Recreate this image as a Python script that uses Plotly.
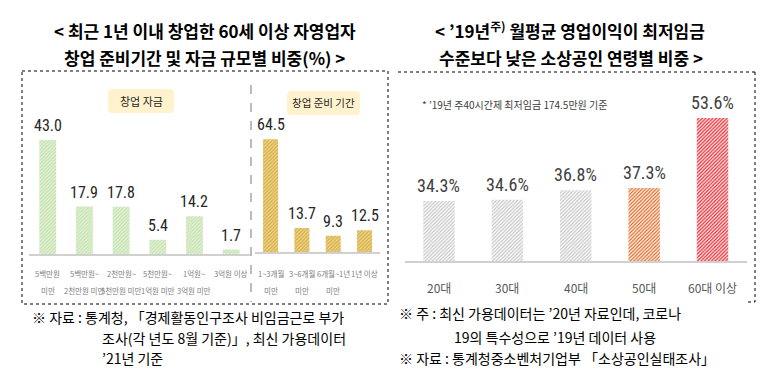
import plotly.graph_objects as go

# ---------------- data ----------------
fund_categories = ["5백만원<br>미만", "5백만원~<br>2천만원 미만", "2천만원~<br>5천만원 미만",
                   "5천만원~<br>1억원 미만", "1억원~<br>3억원 미만", "3억원 이상"]
fund_values = [43.0, 17.9, 17.8, 5.4, 14.2, 1.7]

prep_categories = ["1~3개월<br>미만", "3~6개월<br>미만", "6개월~1년<br>미만", "1년 이상"]
prep_values = [64.5, 13.7, 9.3, 12.5]

age_categories = ["20대", "30대", "40대", "50대", "60대 이상"]
age_values = [34.3, 34.6, 36.8, 37.3, 53.6]

# ---------------- helpers ----------------
W, H = 781, 382
def px(x):
    return x / W
def py(y):
    return 1 - y / H

KFONT = "Noto Sans CJK KR, Noto Sans, sans-serif"
NFONT = "Liberation Sans Narrow, Arial Narrow, Roboto Condensed, Liberation Sans, sans-serif"

fig = go.Figure()

fig.add_trace(go.Bar(
    x=fund_categories, y=fund_values, xaxis="x", yaxis="y", width=0.46,
    marker=dict(color="#c5e2ad", line=dict(width=0),
                pattern=dict(shape="/", fgcolor="#c5e2ad", bgcolor="#e4f2da", size=2.5, solidity=0.5,
                             fillmode="replace")),
    hoverinfo="skip", showlegend=False))

fig.add_trace(go.Bar(
    x=prep_categories, y=prep_values, xaxis="x2", yaxis="y2", width=0.48,
    marker=dict(color="#d6ad45", line=dict(width=0),
                pattern=dict(shape="/", fgcolor="#d6ad45", bgcolor="#f0d78f", size=2.5, solidity=0.5,
                             fillmode="replace")),
    hoverinfo="skip", showlegend=False))

age_bg = ["#f7f7f7", "#f7f7f7", "#f7f7f7", "#f6b488", "#ff8c8c"]
age_fg = ["#c8c8c8", "#c8c8c8", "#c8c8c8", "#e2661e", "#f01e26"]
fig.add_trace(go.Bar(
    x=age_categories, y=age_values, xaxis="x3", yaxis="y3", width=0.46,
    marker=dict(color=age_fg, line=dict(width=0),
                pattern=dict(shape="/", fgcolor=age_fg, bgcolor=age_bg, size=2.5, solidity=0.5,
                             fillmode="replace")),
    hoverinfo="skip", showlegend=False))

axis_common = dict(type="category", showgrid=False, zeroline=False, showticklabels=False,
                   showline=True, linecolor="#d0d0d0", linewidth=1.5, ticks="", fixedrange=True)
yaxis_common = dict(visible=False, showgrid=False, zeroline=False, fixedrange=True)

fig.update_layout(
    width=W, height=H, margin=dict(l=0, r=0, t=0, b=0),
    paper_bgcolor="white", plot_bgcolor="rgba(0,0,0,0)",
    xaxis=dict(domain=[px(29.4), px(249.5)], range=[-0.5, 5.5], anchor="y", **axis_common),
    yaxis=dict(domain=[py(254), py(121.5)], range=[0, 50], anchor="x", **yaxis_common),
    xaxis2=dict(domain=[px(254.9), px(380.2)], range=[-0.5, 3.5], anchor="y2", **axis_common),
    yaxis2=dict(domain=[py(252), py(129.5)], range=[0, 70], anchor="x2", **yaxis_common),
    xaxis3=dict(domain=[px(404.8), px(746.7)], range=[-0.5, 4.5], anchor="y3", **axis_common),
    yaxis3=dict(domain=[py(261), py(90.5)], range=[20.35, 60], anchor="x3", **yaxis_common),
)

ann = []
# value labels
for c, v in zip(fund_categories, fund_values):
    ann.append(dict(x=c, y=v, xref="x", yref="y", text=f"{v:.1f}", showarrow=False,
                    xanchor="center", yanchor="bottom", yshift=3,
                    font=dict(family=NFONT, size=16, color="#262626")))
for c, v in zip(prep_categories, prep_values):
    ann.append(dict(x=c, y=v, xref="x2", yref="y2", text=f"{v:.1f}", showarrow=False,
                    xanchor="center", yanchor="bottom", yshift=3,
                    font=dict(family=NFONT, size=16, color="#262626")))
for c, v in zip(age_categories, age_values):
    ann.append(dict(x=c, y=v, xref="x3", yref="y3", text=f"{v:.1f}%", showarrow=False,
                    xanchor="center", yanchor="bottom", yshift=3,
                    font=dict(family=NFONT, size=18, color="#404040")))

# category labels
for xr, cats in (("x", fund_categories), ("x2", prep_categories)):
    for c in cats:
        parts = c.split("<br>")
        for i, p in enumerate(parts):
            ann.append(dict(x=c, y=py(273 + 17 * i), xref=xr, yref="paper", text=p, showarrow=False,
                            xanchor="center", yanchor="middle",
                            font=dict(family=KFONT, size=7.5, color="#808080")))
for c in age_categories:
    ann.append(dict(x=c, y=py(287), xref="x3", yref="paper", text=c, showarrow=False,
                    xanchor="center", yanchor="middle", font=dict(family=KFONT, size=12, color="#595959")))

title_font = dict(family=KFONT, size=17, color="black")
def label(x, y, text, font, xanchor="center"):
    return dict(x=px(x), y=py(y), xref="paper", yref="paper", showarrow=False,
                xanchor=xanchor, yanchor="middle", text=text, font=font)

ann += [
    label(205, 30, "<b>&lt; 최근 1년 이내 창업한 60세 이상 자영업자</b>", title_font),
    label(205, 57, "<b>창업 준비기간 및 자금 규모별 비중(%) &gt;</b>", title_font),
    label(570, 30, "<b>&lt; ’19년<sup>주)</sup> 월평균 영업이익이 최저임금</b>", title_font),
    label(571, 57, "<b>수준보다 낮은 소상공인 연령별 비중 &gt;</b>", title_font),
]

ann += [
    label(141, 101, "창업 자금", dict(family=KFONT, size=11, color="#262626")),
    label(323.5, 103, "창업 준비 기간", dict(family=KFONT, size=10.5, color="#262626")),
    label(420, 104, "* ’19년 주40시간제 최저임금 174.5만원 기준",
          dict(family=KFONT, size=10, color="#404040"), xanchor="left"),
]

fn_font = dict(family=KFONT, size=14, color="black")
foot = [
    (30, 317, "※ 자료 : 통계청, 「경제활동인구조사 비임금근로 부가"),
    (100, 338, "조사(각 년도 8월 기준)」, 최신 가용데이터"),
    (100, 358, "’21년 기준"),
    (397, 313, "※ 주 : 최신 가용데이터는 ’20년 자료인데, 코로나"),
    (452, 337, "19의 특수성으로 ’19년 데이터 사용"),
    (397, 358, "※ 자료 : 통계청중소벤처기업부 「소상공인실태조사」"),
]
for x, y, t in foot:
    ann.append(label(x, y, t, fn_font, xanchor="left"))

fig.update_layout(annotations=ann)

def rrect(x0, y0, x1, y1, r=4):
    X0, X1 = px(x0), px(x1)
    Y0, Y1 = py(y0), py(y1)
    rx, ry = r / W, r / H
    return (f"M {X0+rx},{Y0} L {X1-rx},{Y0} Q {X1},{Y0} {X1},{Y0-ry} "
            f"L {X1},{Y1+ry} Q {X1},{Y1} {X1-rx},{Y1} L {X0+rx},{Y1} Q {X0},{Y1} {X0},{Y1+ry} "
            f"L {X0},{Y0-ry} Q {X0},{Y0} {X0+rx},{Y0} Z")

dot = dict(color="black", width=1, dash="dot")
shapes = [
    dict(type="path", path=rrect(108, 89, 174, 113), xref="paper", yref="paper",
         fillcolor="#fff2cc", line=dict(width=0), layer="below"),
    dict(type="path", path=rrect(287, 91, 360, 115), xref="paper", yref="paper",
         fillcolor="#fff2cc", line=dict(width=0), layer="below"),
    dict(type="line", x0=px(251), x1=px(251), y0=py(85), y1=py(302), xref="paper", yref="paper",
         line=dict(color="#a6a6a6", width=1.5, dash="dash")),
    dict(type="rect", x0=px(22), x1=px(388), y0=py(71), y1=py(304), xref="paper", yref="paper",
         line=dot, layer="below"),
    dict(type="line", x0=px(398), x1=px(755), y0=py(72), y1=py(72), xref="paper", yref="paper", line=dot),
    dict(type="line", x0=px(755), x1=px(755), y0=py(72), y1=py(302), xref="paper", yref="paper", line=dot),
    dict(type="line", x0=px(748), x1=px(755), y0=py(302), y1=py(302), xref="paper", yref="paper", line=dot),
]
fig.update_layout(shapes=shapes)

fig.write_html("out.html", config={"displayModeBar": False, "staticPlot": True},
               post_script="document.body.style.margin='0';document.body.style.overflow='hidden';")
